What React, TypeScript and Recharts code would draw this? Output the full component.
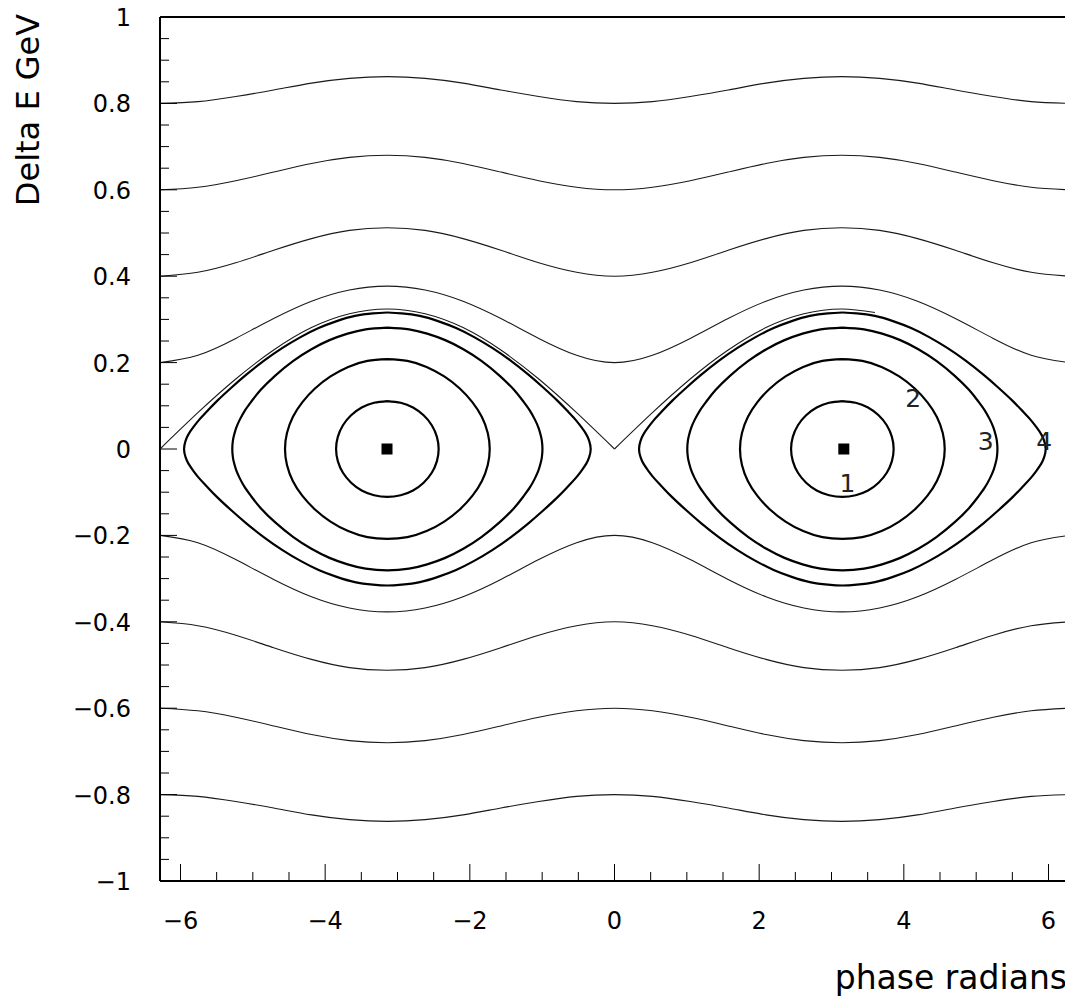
import React from 'react';
import { ScatterChart, Scatter, XAxis, YAxis, ReferenceLine } from 'recharts';

// ---- sample phases (radians) where the open orbits were read ----
const phaseGrid = [-6.283, -5.76, -5.236, -4.712, -4.189, -3.665, -3.142, -2.618, -2.094, -1.571, -1.047, -0.524, 0, 0.524, 1.047, 1.571, 2.094, 2.618, 3.142, 3.665, 4.189, 4.712, 5.236, 5.76, 6.283];

// ---- open (rotating) orbits, Delta E in GeV ----
const orbitP08 = [0.8, 0.804, 0.816, 0.831, 0.847, 0.858, 0.862, 0.858, 0.847, 0.831, 0.816, 0.804, 0.8, 0.804, 0.816, 0.831, 0.847, 0.858, 0.862, 0.858, 0.847, 0.831, 0.816, 0.804, 0.8];
const orbitP06 = [0.6, 0.606, 0.621, 0.641, 0.661, 0.675, 0.68, 0.675, 0.661, 0.641, 0.621, 0.606, 0.6, 0.606, 0.621, 0.641, 0.661, 0.675, 0.68, 0.675, 0.661, 0.641, 0.621, 0.606, 0.6];
const orbitP04 = [0.4, 0.409, 0.431, 0.46, 0.487, 0.506, 0.512, 0.506, 0.487, 0.46, 0.431, 0.409, 0.4, 0.409, 0.431, 0.46, 0.487, 0.506, 0.512, 0.506, 0.487, 0.46, 0.431, 0.409, 0.4];
const orbitP02 = [0.2, 0.217, 0.256, 0.302, 0.342, 0.368, 0.377, 0.368, 0.342, 0.302, 0.256, 0.217, 0.2, 0.217, 0.256, 0.302, 0.342, 0.368, 0.377, 0.368, 0.342, 0.302, 0.256, 0.217, 0.2];
const orbitM02 = [-0.2, -0.217, -0.256, -0.302, -0.342, -0.368, -0.377, -0.368, -0.342, -0.302, -0.256, -0.217, -0.2, -0.217, -0.256, -0.302, -0.342, -0.368, -0.377, -0.368, -0.342, -0.302, -0.256, -0.217, -0.2];
const orbitM04 = [-0.4, -0.409, -0.431, -0.46, -0.487, -0.506, -0.512, -0.506, -0.487, -0.46, -0.431, -0.409, -0.4, -0.409, -0.431, -0.46, -0.487, -0.506, -0.512, -0.506, -0.487, -0.46, -0.431, -0.409, -0.4];
const orbitM06 = [-0.6, -0.606, -0.621, -0.641, -0.661, -0.675, -0.68, -0.675, -0.661, -0.641, -0.621, -0.606, -0.6, -0.606, -0.621, -0.641, -0.661, -0.675, -0.68, -0.675, -0.661, -0.641, -0.621, -0.606, -0.6];
const orbitM08 = [-0.8, -0.804, -0.816, -0.831, -0.847, -0.858, -0.862, -0.858, -0.847, -0.831, -0.816, -0.804, -0.8, -0.804, -0.816, -0.831, -0.847, -0.858, -0.862, -0.858, -0.847, -0.831, -0.816, -0.804, -0.8];

// ---- separatrix (upper branch, thin) ----
const sepLeftPhase = [-6.283, -5.76, -5.236, -4.712, -4.189, -3.665, -3.142, -2.618, -2.094, -1.571, -1.047, -0.524, 0];
const sepLeftDeltaE = [0, 0.084, 0.162, 0.229, 0.281, 0.313, 0.324, 0.313, 0.281, 0.229, 0.162, 0.084, 0];
const sepRightPhase = [0, 0.524, 1.047, 1.571, 2.094, 2.618, 3.142, 3.6];
const sepRightDeltaE = [0, 0.084, 0.162, 0.229, 0.281, 0.313, 0.324, 0.316];

// ---- closed (bucket) orbits: half-profile, phase offset from the bucket centre -> Delta E ----
const islandCentres = [-3.14, 3.15];
const loop1Offset = [0.709, 0.685, 0.614, 0.501, 0.355, 0.184, 0];
const loop1DeltaE = [0, 0.028, 0.055, 0.078, 0.096, 0.107, 0.111];
const loop2Offset = [1.415, 1.388, 1.307, 1.177, 1.001, 0.786, 0.542, 0.276, 0];
const loop2DeltaE = [0, 0.037, 0.074, 0.108, 0.14, 0.168, 0.19, 0.204, 0.208];
const loop3Offset = [2.144, 2.135, 2.12, 2.09, 2.04, 1.97, 1.88, 1.75, 1.55, 1.3, 1.05, 0.8, 0.55, 0.3, 0];
const loop3DeltaE = [0, 0.02, 0.032, 0.049, 0.068, 0.089, 0.11, 0.137, 0.17, 0.204, 0.231, 0.252, 0.267, 0.277, 0.281];
const loop4Offset = [2.811, 2.79, 2.75, 2.68, 2.6, 2.5, 2.35, 2.15, 1.95, 1.7, 1.45, 1.2, 0.95, 0.7, 0.45, 0.2, 0];
const loop4DeltaE = [0, 0.019, 0.034, 0.051, 0.068, 0.086, 0.112, 0.143, 0.172, 0.205, 0.234, 0.259, 0.28, 0.296, 0.308, 0.314, 0.316];

// ---- bucket centre markers ----
const markerPhase = [-3.145, 3.17];
const markerDeltaE = [0, 0];

// ---- orbit labels ----
const labelText = ['1', '2', '3', '4'];
const labelPhase = [3.22, 4.13, 5.13, 5.94];
const labelDeltaE = [-0.078, 0.119, 0.018, 0.018];

// ---- ticks ----
const xTicks = [-6, -5.5, -5, -4.5, -4, -3.5, -3, -2.5, -2, -1.5, -1, -0.5, 0, 0.5, 1, 1.5, 2, 2.5, 3, 3.5, 4, 4.5, 5, 5.5, 6];
const xMajorTicks = [-6, -4, -2, 0, 2, 4, 6];
const xMajorLabels = ['\u22126', '\u22124', '\u22122', '0', '2', '4', '6'];
const yTicks = [-1, -0.95, -0.9, -0.85, -0.8, -0.75, -0.7, -0.65, -0.6, -0.55, -0.5, -0.45, -0.4, -0.35, -0.3, -0.25, -0.2, -0.15, -0.1, -0.05, 0, 0.05, 0.1, 0.15, 0.2, 0.25, 0.3, 0.35, 0.4, 0.45, 0.5, 0.55, 0.6, 0.65, 0.7, 0.75, 0.8, 0.85, 0.9, 0.95, 1];
const yMajorTicks = [-1, -0.8, -0.6, -0.4, -0.2, 0, 0.2, 0.4, 0.6, 0.8, 1];
const yMajorLabels = ['\u22121', '\u22120.8', '\u22120.6', '\u22120.4', '\u22120.2', '0', '0.2', '0.4', '0.6', '0.8', '1'];

const X_MIN = -6.2832;
const X_MAX = 6.2832;

const FONT = '"DejaVu Sans", "Liberation Sans", sans-serif';

type Pt = { x: number; y: number };

const toPoints = (xs: number[], ys: number[]): Pt[] => xs.map((x, i) => ({ x, y: ys[i] }));

function buildLoop(c: number, off: number[], dE: number[]): Pt[] {
  const n = off.length;
  const pts: Pt[] = [];
  for (let i = n - 1; i >= 0; i--) pts.push({ x: c - off[i], y: dE[i] });
  for (let i = 1; i < n; i++) pts.push({ x: c - off[i], y: -dE[i] });
  for (let i = n - 2; i >= 0; i--) pts.push({ x: c + off[i], y: -dE[i] });
  for (let i = 1; i < n; i++) pts.push({ x: c + off[i], y: dE[i] });
  return pts;
}

const openOrbits = [orbitP08, orbitP06, orbitP04, orbitP02, orbitM02, orbitM04, orbitM06, orbitM08].map((ys) => toPoints(phaseGrid, ys));
const loops: Pt[][] = [];
islandCentres.forEach((c) => {
  loops.push(buildLoop(c, loop1Offset, loop1DeltaE));
  loops.push(buildLoop(c, loop2Offset, loop2DeltaE));
  loops.push(buildLoop(c, loop3Offset, loop3DeltaE));
  loops.push(buildLoop(c, loop4Offset, loop4DeltaE));
});
const sepLeft = toPoints(sepLeftPhase, sepLeftDeltaE);
const sepRight = toPoints(sepRightPhase, sepRightDeltaE);
const markers = toPoints(markerPhase, markerDeltaE);
const labels = labelText.map((t, i) => ({ x: labelPhase[i], y: labelDeltaE[i], t }));

const NoShape = () => <g />;

const XTick = (props: any) => {
  const { x, y, payload } = props;
  const v = payload.value;
  const idx = xMajorTicks.indexOf(v);
  const major = idx >= 0;
  return (
    <g>
      <line x1={x} y1={y} x2={x} y2={y - (major ? 17 : 9)} stroke="#000" strokeWidth={1} />
      {major && (
        <text x={x} y={y + 48} textAnchor="middle" fontSize={24} fontFamily={FONT} fill="#000">
          {xMajorLabels[idx]}
        </text>
      )}
    </g>
  );
};

const YTick = (props: any) => {
  const { x, y, payload } = props;
  const v = payload.value;
  const idx = yMajorTicks.indexOf(v);
  const major = idx >= 0;
  return (
    <g>
      <line x1={x} y1={y} x2={x + (major ? 17 : 9)} y2={y} stroke="#000" strokeWidth={1} />
      {major && (
        <text x={x - 29} y={y + 9} textAnchor="end" fontSize={24} fontFamily={FONT} fill="#000">
          {yMajorLabels[idx]}
        </text>
      )}
    </g>
  );
};

const MarkerShape = (p: any) => <rect x={p.cx - 5.5} y={p.cy - 5.5} width={11} height={11} fill="#000" />;

const LabelShape = (p: any) => (
  <text x={p.cx} y={p.cy + 9} textAnchor="middle" fontSize={25} fontFamily={FONT} fill="#222">
    {p.payload.t}
  </text>
);

export default function App() {
  const W = 1065;
  const H = 990;
  return (
    <div style={{ position: 'relative', width: W, height: H, background: '#fff' }}>
      <style>{'.recharts-surface, .recharts-wrapper { overflow: visible !important; }'}</style>
      <ScatterChart width={W} height={H} margin={{ top: 9, right: 4, bottom: 0, left: 0 }}>
        <XAxis
          type="number"
          dataKey="x"
          domain={[X_MIN, X_MAX]}
          allowDataOverflow
          ticks={xTicks}
          interval={0}
          tickSize={0}
          tickMargin={0}
          tickLine={false}
          tick={<XTick />}
          height={117}
          axisLine={{ stroke: '#000', strokeWidth: 2 }}
        />
        <YAxis
          type="number"
          dataKey="y"
          domain={[-1, 1]}
          allowDataOverflow
          ticks={yTicks}
          interval={0}
          tickSize={0}
          tickMargin={0}
          tickLine={false}
          tick={<YTick />}
          width={152}
          axisLine={{ stroke: '#000', strokeWidth: 2 }}
        />
        <ReferenceLine y={1} stroke="#000" strokeWidth={2} />
        <ReferenceLine x={X_MAX} stroke="#000" strokeWidth={2} />
        {openOrbits.map((d, i) => (
          <Scatter
            key={'open' + i}
            data={d}
            line={{ stroke: '#1a1a1a', strokeWidth: 1.1 }}
            lineType="joint"
            lineJointType="natural"
            shape={NoShape}
            isAnimationActive={false}
          />
        ))}
        <Scatter data={sepLeft} line={{ stroke: '#1a1a1a', strokeWidth: 1.1 }} lineType="joint" lineJointType="natural" shape={NoShape} isAnimationActive={false} />
        <Scatter data={sepRight} line={{ stroke: '#1a1a1a', strokeWidth: 1.1 }} lineType="joint" lineJointType="natural" shape={NoShape} isAnimationActive={false} />
        {loops.map((d, i) => (
          <Scatter
            key={'loop' + i}
            data={d}
            line={{ stroke: '#000', strokeWidth: 2.2 }}
            lineType="joint"
            lineJointType="natural"
            shape={NoShape}
            isAnimationActive={false}
          />
        ))}
        <Scatter data={markers} shape={MarkerShape} isAnimationActive={false} />
        <Scatter data={labels} shape={LabelShape} isAnimationActive={false} />
      </ScatterChart>
      <svg width={W} height={H} style={{ position: 'absolute', left: 0, top: 0, pointerEvents: 'none' }}>
        <text x={31} y={102} transform="rotate(-90 31 102)" textAnchor="middle" fontSize={32} fontFamily={FONT} fill="#000">
          Delta E GeV
        </text>
        <text x={1059} y={981} textAnchor="end" fontSize={33} fontFamily={FONT} fill="#000">
          phase radians
        </text>
      </svg>
    </div>
  );
}
